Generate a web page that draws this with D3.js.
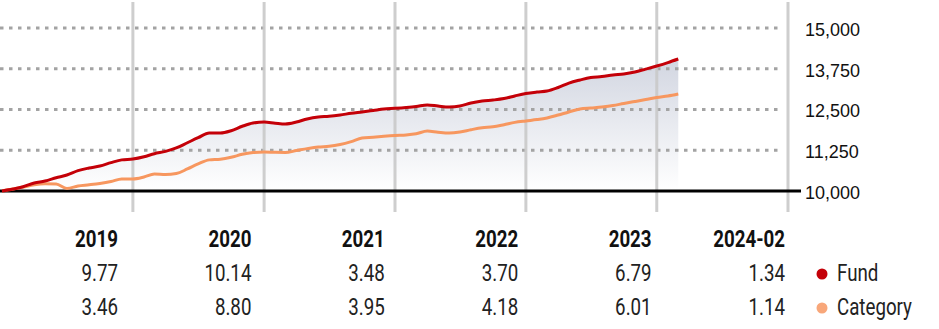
<!DOCTYPE html>
<html>
<head>
<meta charset="utf-8">
<script src="https://cdn.jsdelivr.net/npm/d3@7"></script>
<style>
  body { margin: 0; background: #fff; }
  .yLabel { font-family: "Liberation Sans", Arial, sans-serif; font-size: 18px; fill: #111; }
  .yearHead { font-family: Roboto, "Liberation Sans", sans-serif; font-size: 24px; font-weight: 700; fill: #111; }
  .cell { font-family: Roboto, "Liberation Sans", sans-serif; font-size: 24px; font-weight: 400; fill: #222; }
</style>
</head>
<body>
<div id="chart"></div>
<script>
// growth of 10,000 - monthly values Dec 2018 .. Feb 2024
var fundValues = [10000, 10060, 10130, 10245, 10305, 10405, 10490, 10625, 10705, 10765, 10870, 10955,
  10980, 11050, 11145, 11215, 11320, 11480, 11635, 11780, 11780, 11850, 11985, 12085,
  12115, 12080, 12055, 12115, 12210, 12270, 12290, 12330, 12385, 12425, 12470, 12515,
  12535, 12560, 12590, 12640, 12605, 12575, 12605, 12700, 12760, 12790, 12835, 12915,
  12990, 13035, 13065, 13175, 13310, 13405, 13480, 13510, 13560, 13590, 13650, 13740,
  13835, 13940, 14050];

var categoryValues = [10000, 10060, 10120, 10190, 10220, 10215, 10080, 10155, 10190, 10230, 10290, 10370,
  10370, 10430, 10520, 10505, 10535, 10675, 10830, 10955, 10975, 11035, 11125, 11180,
  11200, 11185, 11180, 11240, 11300, 11350, 11370, 11425, 11515, 11625, 11650, 11680,
  11705, 11720, 11755, 11840, 11805, 11780, 11810, 11880, 11940, 11970, 12035, 12105,
  12150, 12190, 12240, 12330, 12425, 12515, 12545, 12575, 12620, 12685, 12745, 12805,
  12870, 12915, 12975];

var yTicks = [10000, 11250, 12500, 13750, 15000];
var yearLabels = ["2019", "2020", "2021", "2022", "2023", "2024-02"];
var fundReturns = ["9.77", "10.14", "3.48", "3.70", "6.79", "1.34"];
var categoryReturns = ["3.46", "8.80", "3.95", "4.18", "6.01", "1.14"];
var legendNames = ["Fund", "Category"];

var svgWidth = 939;
var svgHeight = 329;

var fundColor = "#c40008";
var catColor = "#f7975f";
var squeeze = 0.78;   // fake a condensed face

var svg = d3.select("#chart")
  .append("svg")
  .attr("width", svgWidth)
  .attr("height", svgHeight);

// month i -> first day of the following month (start 2019-01-01)
function monthDate(i) {
  return new Date(2019, i, 1);
}

var fundData = fundValues.map(function (v, i) { return { date: monthDate(i), value: v }; });
var catData = categoryValues.map(function (v, i) { return { date: monthDate(i), value: v }; });

var xScale = d3.scaleTime()
  .domain([new Date(2019, 0, 1), new Date(2025, 0, 1)])
  .range([2, 788]);

var yScale = d3.scaleLinear()
  .domain([10000, 15000])
  .range([191, 28]);

// gradient under fund line
var defs = svg.append("defs");
var grad = defs.append("linearGradient")
  .attr("id", "areaGrad")
  .attr("gradientUnits", "userSpaceOnUse")
  .attr("x1", 0).attr("x2", 0)
  .attr("y1", yScale(14050)).attr("y2", yScale(10000));
grad.append("stop").attr("offset", "0%").attr("stop-color", "#d2d6e1");
grad.append("stop").attr("offset", "100%").attr("stop-color", "#ffffff");

var area = d3.area()
  .x(d => xScale(d.date))
  .y0(yScale(10000))
  .y1(d => yScale(d.value))
  .curve(d3.curveMonotoneX);

svg.append("path")
  .datum(fundData)
  .attr("d", area)
  .attr("fill", "url(#areaGrad)");

// horizontal dotted grid
svg.append("g")
  .selectAll("line")
  .data(yTicks.filter(t => t > 10000))
  .enter()
  .append("line")
  .attr("x1", 0)
  .attr("x2", 782)
  .attr("y1", d => yScale(d))
  .attr("y2", d => yScale(d))
  .attr("stroke", "#a3a3a3")
  .attr("stroke-width", 3)
  .attr("stroke-dasharray", "3.5 5.5");

// vertical year lines
var yearLines = d3.range(2020, 2026).map(y => new Date(y, 0, 1));
svg.append("g")
  .selectAll("line")
  .data(yearLines)
  .enter()
  .append("line")
  .attr("x1", d => xScale(d))
  .attr("x2", d => xScale(d))
  .attr("y1", 2)
  .attr("y2", 212)
  .attr("stroke", "#c9c9c9")
  .attr("stroke-opacity", 0.9)
  .attr("stroke-width", 3);

// baseline
svg.append("line")
  .attr("x1", 0)
  .attr("x2", 801)
  .attr("y1", yScale(10000))
  .attr("y2", yScale(10000))
  .attr("stroke", "#000")
  .attr("stroke-width", 3);

var line = d3.line()
  .x(d => xScale(d.date))
  .y(d => yScale(d.value))
  .curve(d3.curveMonotoneX);

svg.append("path")
  .datum(catData)
  .attr("d", line)
  .attr("fill", "none")
  .attr("stroke", catColor)
  .attr("stroke-width", 3);

svg.append("path")
  .datum(fundData)
  .attr("d", line)
  .attr("fill", "none")
  .attr("stroke", fundColor)
  .attr("stroke-width", 3);

// y axis labels on the right
var yAxis = d3.axisRight(yScale)
  .tickValues(yTicks)
  .tickSize(0)
  .tickPadding(0)
  .tickFormat(d3.format(","));

var yAxisG = svg.append("g")
  .attr("transform", "translate(805, 1.5)")
  .call(yAxis);
yAxisG.select(".domain").remove();
yAxisG.selectAll("text")
  .attr("class", "yLabel")
  .attr("font-family", null)
  .attr("font-size", null)
  .attr("fill", null);

// table of annual returns
var colScale = d3.scalePoint()
  .domain(yearLabels)
  .range([118, 785]);

function addRow(values, cls, y) {
  svg.append("g")
    .selectAll("text")
    .data(values)
    .enter()
    .append("text")
    .attr("class", cls)
    .attr("transform", (d, i) => `translate(${colScale(yearLabels[i])}, ${y}) scale(${squeeze}, 1)`)
    .attr("text-anchor", "end")
    .text(d => d);
}

addRow(yearLabels, "yearHead", 247);
addRow(fundReturns, "cell", 281);
addRow(categoryReturns, "cell", 315);

// legend
var legend = svg.append("g")
  .selectAll("g")
  .data(legendNames)
  .enter()
  .append("g")
  .attr("transform", (d, i) => `translate(822, ${274 + i * 34})`);

legend.append("circle")
  .attr("r", 5.5)
  .attr("fill", (d, i) => i === 0 ? fundColor : "#f8a77a");

legend.append("text")
  .attr("class", "cell")
  .attr("transform", `translate(15, 7) scale(${squeeze}, 1)`)
  .text(d => d);
</script>
</body>
</html>
